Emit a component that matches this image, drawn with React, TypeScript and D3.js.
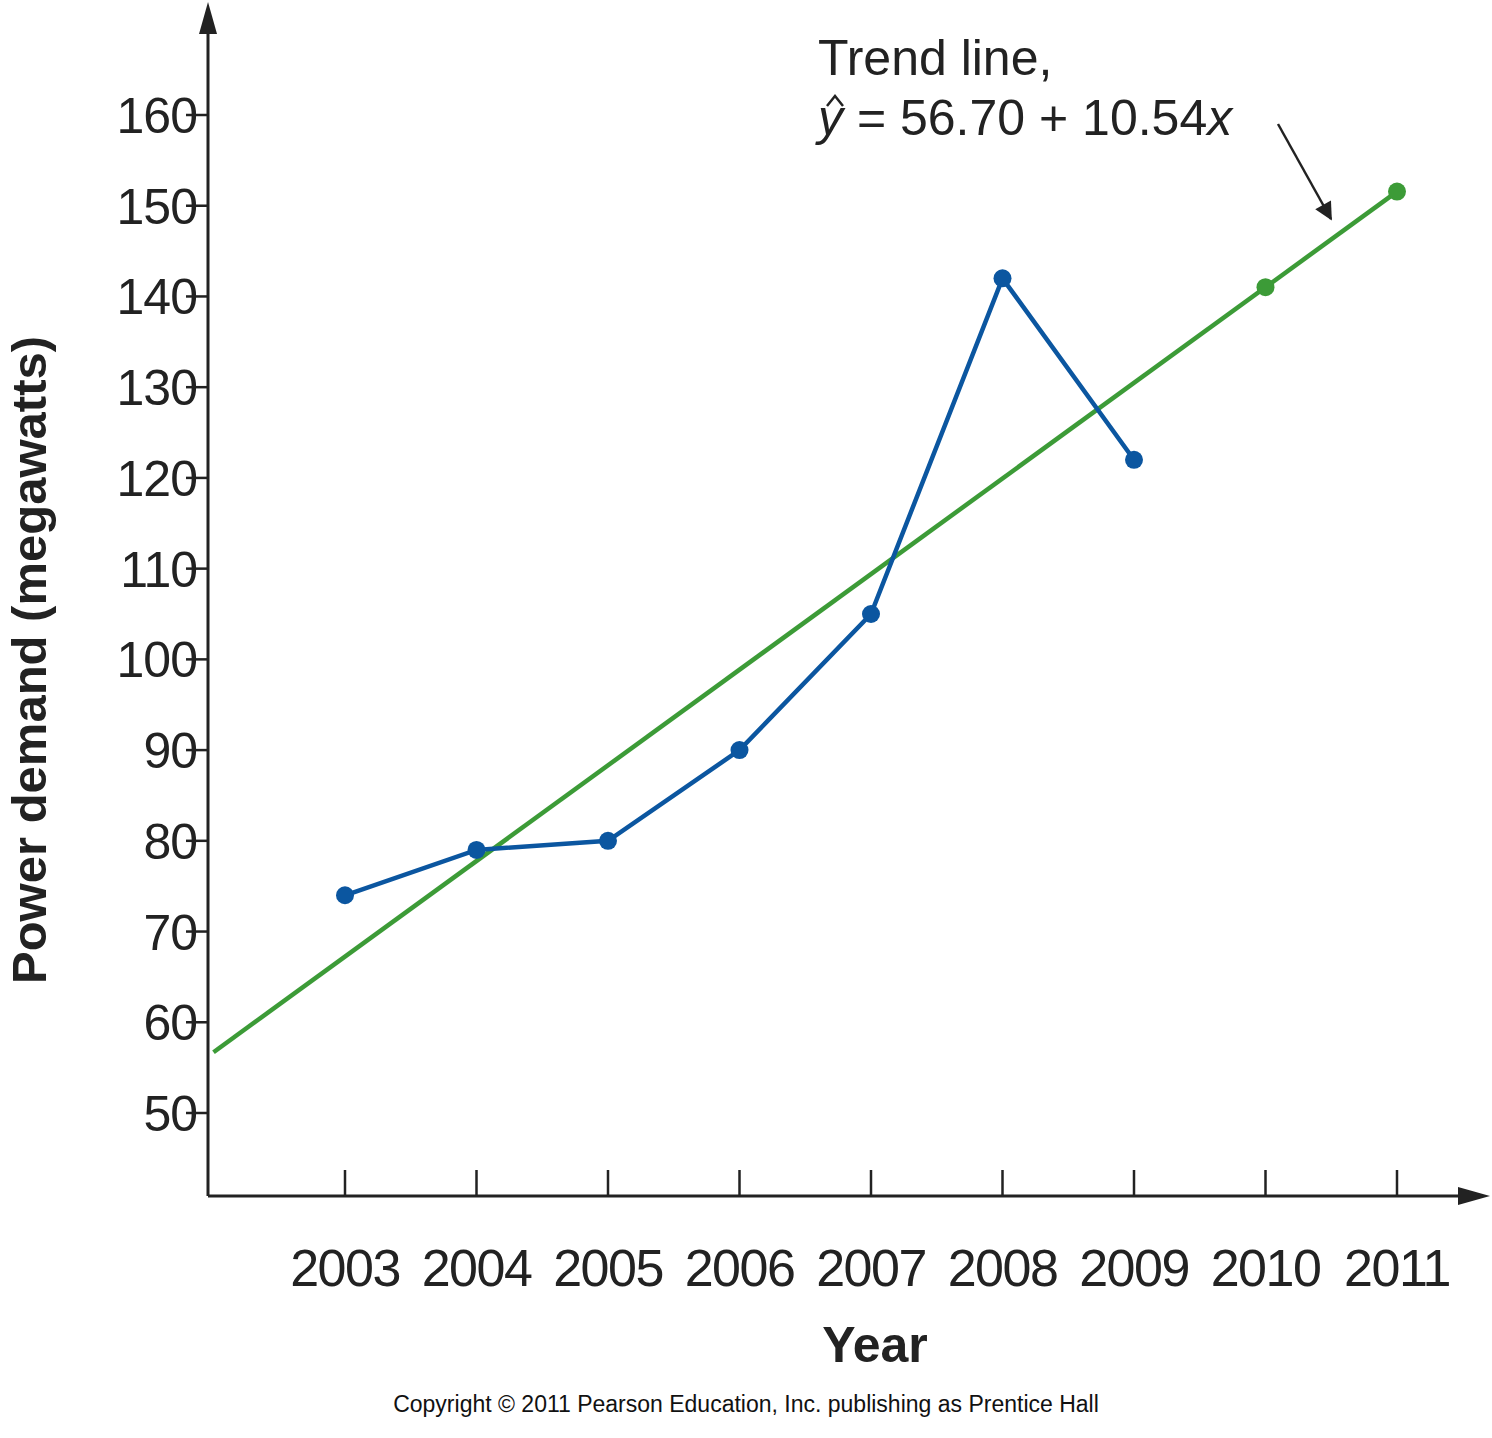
import * as d3 from 'd3';

const years = [2003, 2004, 2005, 2006, 2007, 2008, 2009, 2010, 2011];
const demand = [74, 79, 80, 90, 105, 142, 122];
const yTicks = [50, 60, 70, 80, 90, 100, 110, 120, 130, 140, 150, 160];
const trendA = 56.7;
const trendB = 10.54;
const trendYears = [2010, 2011];

const W = 1492, H = 1438;
const x = d3.scaleLinear().domain([2003, 2011]).range([345, 1397]);
const y = d3.scaleLinear().domain([50, 160]).range([1113, 115]);
const trend = (yr: number) => trendA + trendB * (yr - 2002);
const blue = '#0b56a0', green = '#3c9b37';
const font = '"Liberation Sans", Arial, sans-serif';

export default function App() {
  const axisX = 208, axisY = 1196;
  const line = d3.line<[number, number]>().x(d => x(d[0])).y(d => y(d[1]));
  const obs: [number, number][] = demand.map((v, i) => [years[i], v]);
  const tl: [number, number][] = [[2002, trend(2002)], [2011, trend(2011)]];
  return (
    <svg width={W} height={H} style={{ position: 'absolute', left: 0, top: 0, background: '#fff' }} fontFamily={font}>
      <defs>
        <marker id="ah" viewBox="0 0 10 10" refX="9" refY="5" markerWidth="24" markerHeight="18" orient="auto" markerUnits="userSpaceOnUse">
          <path d="M0,0 L10,5 L0,10 z" fill="#222" />
        </marker>
      </defs>
      {/* axes */}
      <line x1={axisX} y1={axisY} x2={axisX} y2={30} stroke="#222" strokeWidth={3} />
      <path d={`M${axisX - 9},34 L${axisX},2 L${axisX + 9},34 z`} fill="#222" />
      <line x1={axisX} y1={axisY} x2={1462} y2={axisY} stroke="#222" strokeWidth={3} />
      <path d={`M1458,${axisY - 9} L1490,${axisY} L1458,${axisY + 9} z`} fill="#222" />
      {yTicks.map(t => (
        <g key={t}>
          <line x1={axisX - 22} x2={axisX} y1={y(t)} y2={y(t)} stroke="#222" strokeWidth={2.5} />
          <text x={197} y={y(t)} dy="0.36em" textAnchor="end" fontSize={50} letterSpacing={-1} fill="#222">{t}</text>
        </g>
      ))}
      {years.map(t => (
        <g key={t}>
          <line x1={x(t)} x2={x(t)} y1={axisY - 26} y2={axisY} stroke="#222" strokeWidth={2.5} />
          <text x={x(t)} y={1286} textAnchor="middle" fontSize={52} letterSpacing={-1.5} fill="#222">{t}</text>
        </g>
      ))}
      <text x={875} y={1362} textAnchor="middle" fontSize={50} fontWeight="bold" fill="#222">Year</text>
      <text transform="translate(46,660) rotate(-90)" textAnchor="middle" fontSize={49} fontWeight="bold" fill="#222">Power demand (megawatts)</text>
      {/* trend */}
      <path d={line(tl)!} fill="none" stroke={green} strokeWidth={4.5} />
      {trendYears.map(t => <circle key={t} cx={x(t)} cy={y(trend(t))} r={9} fill={green} />)}
      {/* observed */}
      <path d={line(obs)!} fill="none" stroke={blue} strokeWidth={4.5} />
      {obs.map(d => <circle key={d[0]} cx={x(d[0])} cy={y(d[1])} r={9} fill={blue} />)}
      {/* annotation */}
      <text x={818} y={75} fontSize={50} fill="#222">Trend line,</text>
      <text x={818} y={135} fontSize={50} fill="#222">
        <tspan fontStyle="italic">y</tspan><tspan> = 56.70 + 10.54</tspan><tspan fontStyle="italic">x</tspan>
      </text>
      <path d="M827,106 L835,96 L843,106" fill="none" stroke="#222" strokeWidth={2.5} />
      <line x1={1278} y1={124} x2={1331} y2={219} stroke="#222" strokeWidth={2.5} markerEnd="url(#ah)" />
      <text x={746} y={1412} textAnchor="middle" fontSize={23} fill="#111">Copyright © 2011 Pearson Education, Inc. publishing as Prentice Hall</text>
    </svg>
  );
}
